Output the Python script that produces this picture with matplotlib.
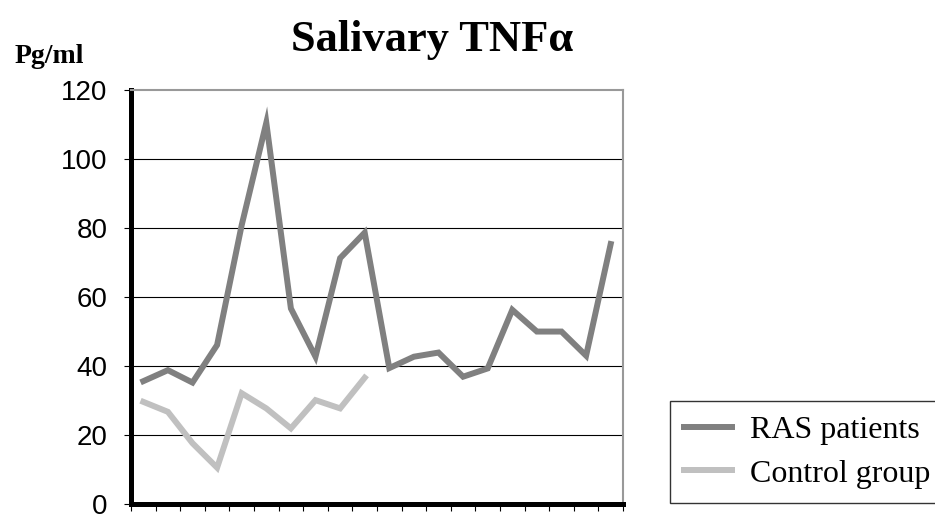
import numpy as np
import matplotlib
matplotlib.use("Agg")
import matplotlib.pyplot as plt

# values (pg/ml), one per sample
ras = [35.5, 38.7, 35.1, 46.0, 80.8, 110.5, 56.6, 42.6, 71.2, 78.6,
       39.3, 42.6, 43.8, 36.8, 39.2, 56.2, 49.9, 49.9, 42.9, 75.3]
control = [29.5, 26.6, 17.5, 10.4, 32.0, 27.6, 21.8, 30.0, 27.6, 36.5]
yticks = [0, 20, 40, 60, 80, 100, 120]

fig = plt.figure(figsize=(9.35, 5.18), dpi=100)
ax = fig.add_axes([131/935, 1 - 503.5/518, (623-131)/935, (503.5-90)/518])

x_ras = np.arange(len(ras))
x_ctl = np.arange(len(control))
ax.plot(x_ras, ras, color="#808080", lw=4.3, solid_joinstyle="miter",
        label="RAS patients", zorder=3)
ax.plot(x_ctl, control, color="#c0c0c0", lw=4.3, solid_joinstyle="miter",
        label="Control group", zorder=3)

ax.set_xlim(-0.5, len(ras) - 0.5)
ax.set_ylim(0, 120)
ax.set_yticks(yticks)
ax.set_yticklabels([str(v) for v in yticks], fontfamily="Liberation Sans", fontsize=20)
ax.set_xticks(np.arange(-0.5, len(ras), 1.0))
ax.set_xticklabels([])
ax.tick_params(axis="y", direction="out", length=5, width=0.8, pad=12)
ax.tick_params(axis="x", direction="out", length=5, width=0.8)

for v in yticks[1:-1]:
    ax.axhline(v, color="black", lw=0.8, zorder=1)

ax.spines["left"].set_linewidth(3.6)
ax.spines["bottom"].set_linewidth(3.6)
ax.spines["left"].set_color("black")
ax.spines["bottom"].set_color("black")
for s in ["top", "right"]:
    ax.spines[s].set_color("#999999")
    ax.spines[s].set_linewidth(1.5)

fig.text(432/935, 1 - 51/518, "Salivary TNF\u03b1", ha="center", va="baseline",
         fontfamily="Liberation Serif", fontweight="bold", fontsize=32)
fig.text(15/935, 1 - 63/518, "Pg/ml", ha="left", va="baseline",
         fontfamily="Liberation Serif", fontweight="bold", fontsize=20)

leg = fig.legend(loc="lower left", bbox_to_anchor=(670/935, 1 - 503/518, 0.35, 0.2),
                 mode="expand", borderaxespad=0, frameon=True, fancybox=False,
                 edgecolor="black", prop={"family": "Liberation Serif", "size": 23},
                 handlelength=1.5, handletextpad=0.55, borderpad=0.45,
                 labelspacing=0.45)
leg.get_frame().set_linewidth(1.0)

fig.savefig("out.png", dpi=100)
